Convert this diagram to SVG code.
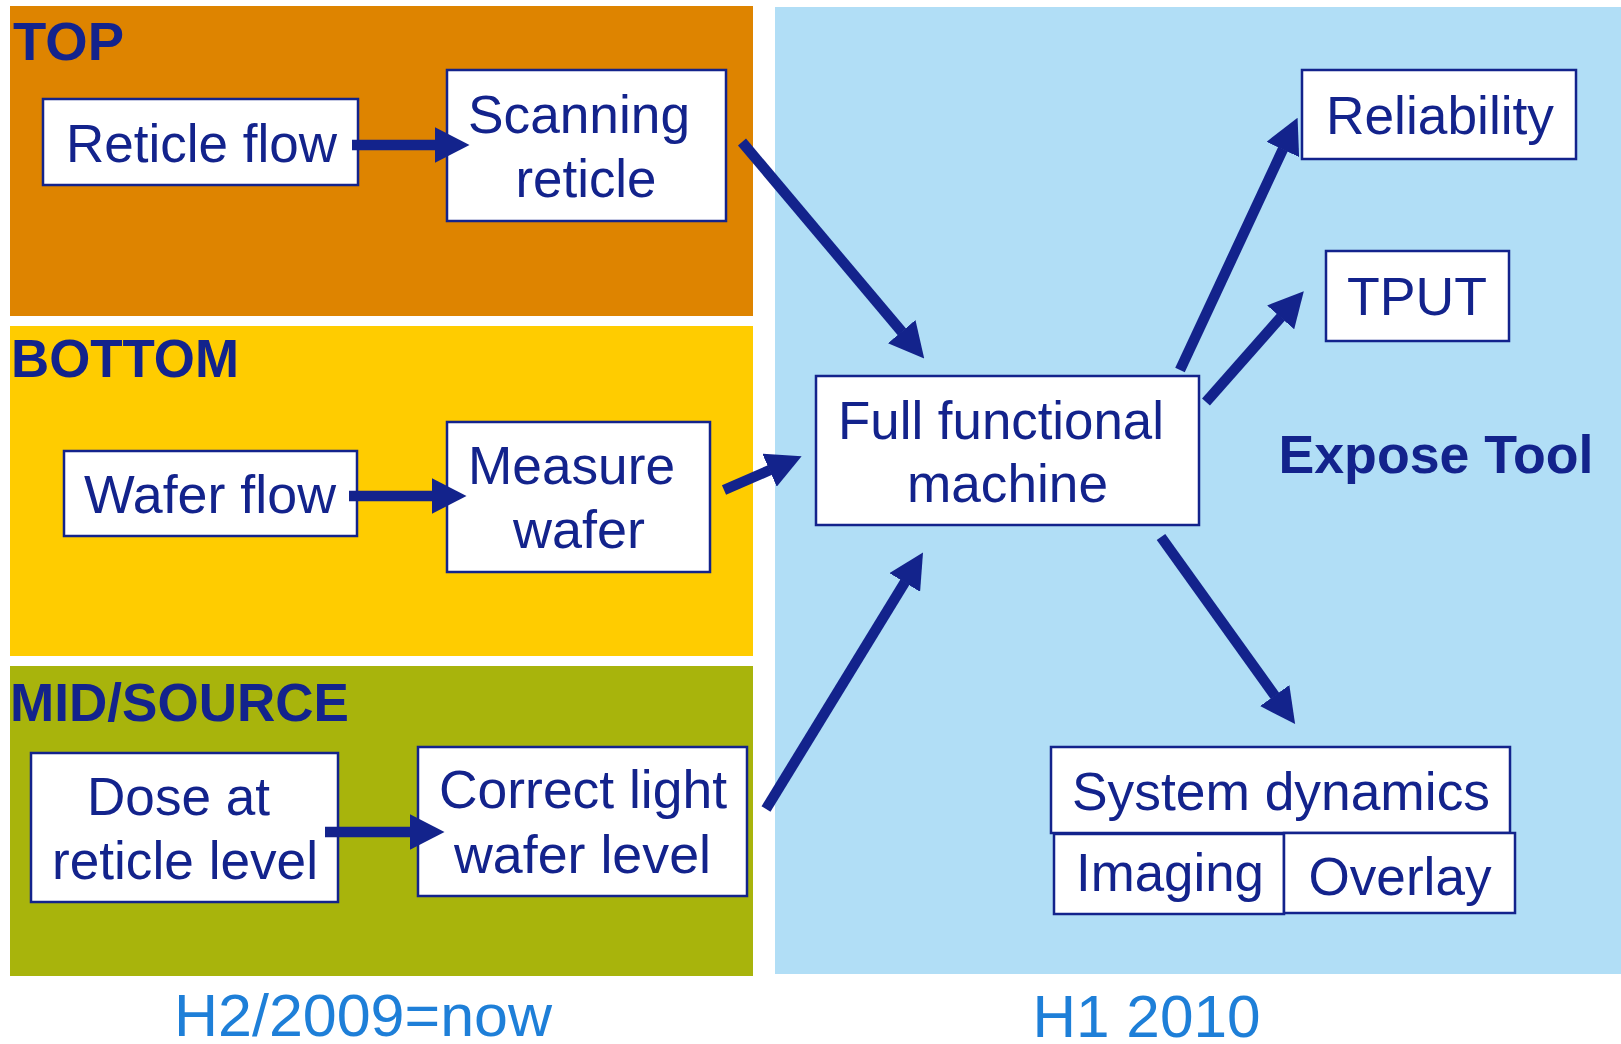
<svg xmlns="http://www.w3.org/2000/svg" width="1621" height="1044" viewBox="0 0 1621 1044">
<style>
.box{fill:#fff;stroke:#13238C;stroke-width:2.5}
.t{font-family:"Liberation Sans",Arial,sans-serif;font-size:53px;fill:#13238C;text-anchor:middle}
.h{font-family:"Liberation Sans",Arial,sans-serif;font-size:53px;font-weight:bold;fill:#13238C}
.p{font-family:"Liberation Sans",Arial,sans-serif;font-size:60px;fill:#1E7FD8;text-anchor:middle}
.c{stroke:#13238C;stroke-width:10.5;fill:none}
</style>
<defs>
<marker id="ah" markerUnits="userSpaceOnUse" viewBox="0 0 35 36" markerWidth="35" markerHeight="36" refX="0.5" refY="18" orient="auto">
<path d="M0,0 L35,18 L0,36 z" fill="#13238C"/>
</marker>
</defs>
<rect width="1621" height="1044" fill="#fff"/>
<g id="panels">
<rect x="10" y="6" width="743" height="310" fill="#DE8400"/>
<rect x="10" y="326" width="743" height="330" fill="#FFCC00"/>
<rect x="10" y="666" width="743" height="310" fill="#A8B40C"/>
<rect x="775" y="7" width="846" height="967" fill="#B1DEF6"/>
<text class="h" x="13" y="60" textLength="111" lengthAdjust="spacingAndGlyphs">TOP</text>
<text class="h" x="11" y="377" textLength="228" lengthAdjust="spacingAndGlyphs">BOTTOM</text>
<text class="h" x="10" y="721" textLength="339" lengthAdjust="spacingAndGlyphs">MID/SOURCE</text>
<text class="h" x="1436" y="473" text-anchor="middle" textLength="315" lengthAdjust="spacingAndGlyphs">Expose Tool</text>
<text class="p" x="363" y="1036" textLength="378" lengthAdjust="spacingAndGlyphs">H2/2009=now</text>
<text class="p" x="1146.5" y="1037" textLength="228" lengthAdjust="spacingAndGlyphs">H1 2010</text>
</g>
<g id="reticle-flow"><rect class="box" x="43" y="99" width="315" height="86"/><text class="t" x="201.5" y="162" textLength="271" lengthAdjust="spacingAndGlyphs">Reticle flow</text></g>
<g id="scanning-reticle"><rect class="box" x="447" y="70" width="279" height="151"/><text class="t" x="579" y="133" textLength="222" lengthAdjust="spacingAndGlyphs">Scanning</text><text class="t" x="586" y="197" textLength="141" lengthAdjust="spacingAndGlyphs">reticle</text></g>
<g id="wafer-flow"><rect class="box" x="64" y="451" width="293" height="85"/><text class="t" x="210" y="513" textLength="252" lengthAdjust="spacingAndGlyphs">Wafer flow</text></g>
<g id="measure-wafer"><rect class="box" x="447" y="422" width="263" height="150"/><text class="t" x="571.5" y="484" textLength="207" lengthAdjust="spacingAndGlyphs">Measure</text><text class="t" x="579" y="548" textLength="132" lengthAdjust="spacingAndGlyphs">wafer</text></g>
<g id="dose-reticle"><rect class="box" x="31" y="753" width="307" height="149"/><text class="t" x="178.5" y="815" textLength="183" lengthAdjust="spacingAndGlyphs">Dose at</text><text class="t" x="185" y="879" textLength="266" lengthAdjust="spacingAndGlyphs">reticle level</text></g>
<g id="correct-light"><rect class="box" x="418" y="747" width="329" height="149"/><text class="t" x="583" y="808" textLength="288" lengthAdjust="spacingAndGlyphs">Correct light</text><text class="t" x="582.5" y="873" textLength="257" lengthAdjust="spacingAndGlyphs">wafer level</text></g>
<g id="full-functional"><rect class="box" x="816" y="376" width="383" height="149"/><text class="t" x="1001" y="439" textLength="326" lengthAdjust="spacingAndGlyphs">Full functional</text><text class="t" x="1007.5" y="502" textLength="201" lengthAdjust="spacingAndGlyphs">machine</text></g>
<g id="reliability"><rect class="box" x="1302" y="70" width="274" height="89" stroke-width="3"/><text class="t" x="1440" y="133.5" textLength="228" lengthAdjust="spacingAndGlyphs">Reliability</text></g>
<g id="tput"><rect class="box" x="1326" y="251" width="183" height="90" stroke-width="3"/><text class="t" x="1417" y="315" textLength="140" lengthAdjust="spacingAndGlyphs">TPUT</text></g>
<g id="system-dynamics"><rect class="box" x="1051" y="747" width="459" height="86"/><text class="t" x="1281" y="810" textLength="418" lengthAdjust="spacingAndGlyphs">System dynamics</text></g>
<g id="imaging"><rect class="box" x="1054" y="834" width="230" height="80"/><text class="t" x="1170" y="891" textLength="188" lengthAdjust="spacingAndGlyphs">Imaging</text></g>
<g id="overlay"><rect class="box" x="1284" y="833" width="231" height="80"/><text class="t" x="1400" y="895" textLength="183" lengthAdjust="spacingAndGlyphs">Overlay</text></g>
<g id="connectors">
<line class="c" x1="352" y1="145" x2="435" y2="145" stroke-width="11" marker-end="url(#ah)"/>
<line class="c" x1="349" y1="496" x2="432" y2="496" stroke-width="11" marker-end="url(#ah)"/>
<line class="c" x1="325" y1="832" x2="410" y2="832" stroke-width="11" marker-end="url(#ah)"/>
<line class="c" x1="742" y1="142" x2="902" y2="332" marker-end="url(#ah)"/>
<line class="c" x1="724" y1="490" x2="770" y2="470" marker-end="url(#ah)"/>
<line class="c" x1="766" y1="809" x2="905" y2="582" marker-end="url(#ah)"/>
<line class="c" x1="1180" y1="370" x2="1283" y2="149" marker-end="url(#ah)"/>
<line class="c" x1="1206" y1="402" x2="1281" y2="317" marker-end="url(#ah)"/>
<line class="c" x1="1161" y1="537" x2="1275" y2="696" marker-end="url(#ah)"/>
</g>
</svg>
